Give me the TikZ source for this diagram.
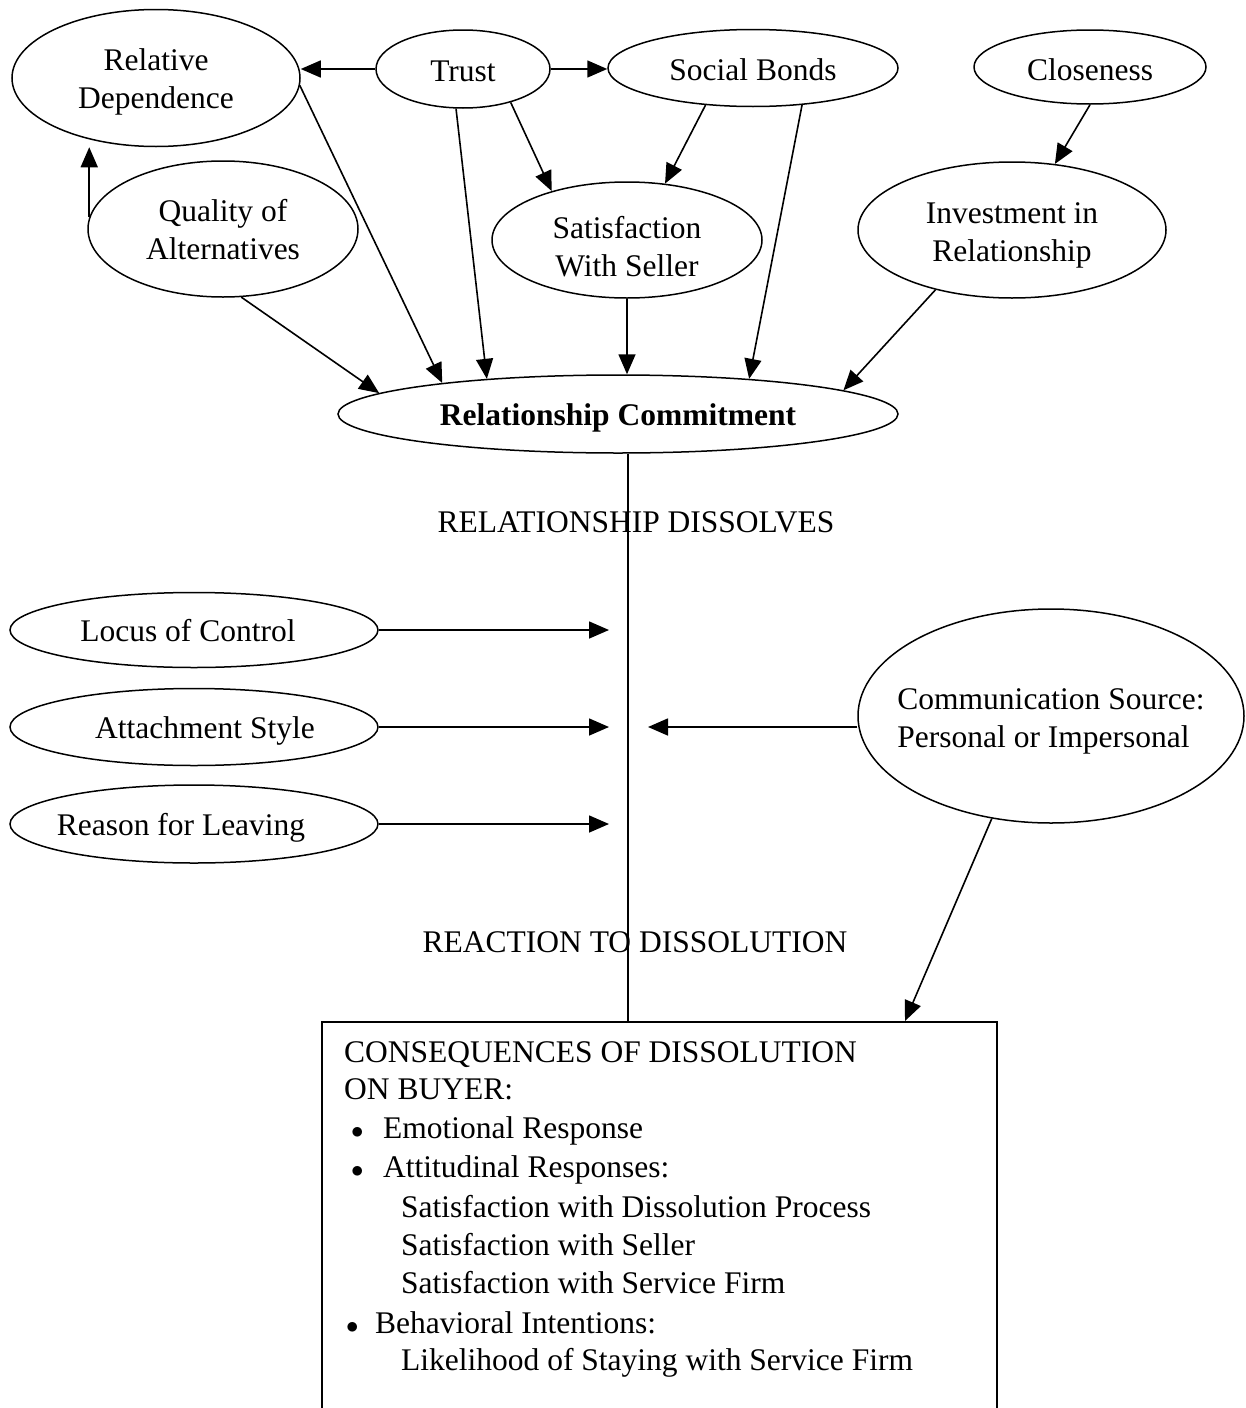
\documentclass[tikz,border=0pt]{standalone}
\usepackage{fontspec}
\setmainfont{Liberation Serif}
\usetikzlibrary{arrows.meta,shapes.geometric}
\newcommand{\ztext}[3][c]{\raisebox{#3}[0pt][0pt]{\makebox[0pt]{\begin{tabular}{@{}#1@{}}#2\end{tabular}}}}
\begin{document}
\begin{tikzpicture}[x=1pt,y=-1pt,
  every node/.style={font=\fontsize{31.5}{38.5}\selectfont},
  ell/.style={draw, ellipse, inner sep=0pt, line width=1.5pt},
  arr/.style={line width=1.6pt, -{Triangle[length=20pt,width=17pt]}},
  ln/.style={line width=1.6pt},
  txt/.style={anchor=base west, inner sep=0pt}
]
\useasboundingbox (0,0) rectangle (1246,1408);
\clip (0,0) rectangle (1246,1408);

% top ellipses
\node[ell, minimum width=288pt, minimum height=137pt] (rd) at (156,78) {\ztext{Relative\\Dependence}{-10pt}};
\node[ell, minimum width=174pt, minimum height=78pt] (tr) at (463,69) {\ztext{Trust}{-11pt}};
\node[ell, minimum width=290pt, minimum height=77pt] (sb) at (753,68) {\ztext{Social Bonds}{-11pt}};
\node[ell, minimum width=232pt, minimum height=74pt] (cl) at (1090,67) {\ztext{Closeness}{-12pt}};
\node[ell, minimum width=270pt, minimum height=136pt] (qa) at (223,229) {\ztext{Quality of\\Alternatives}{-10pt}};
\node[ell, minimum width=270pt, minimum height=116pt] (sws) at (627,240) {\ztext{Satisfaction\\With Seller}{-16pt}};
\node[ell, minimum width=308pt, minimum height=136pt] (ir) at (1012,230) {\ztext{Investment in\\Relationship}{-11pt}};
\node[ell, minimum width=560pt, minimum height=78pt, font=\fontsize{31.5}{38.5}\selectfont\bfseries] (rc) at (618,414) {\ztext{Relationship Commitment}{-10pt}};

% middle
\node (dis) at (636,522) {RELATIONSHIP DISSOLVES};
\node[ell, minimum width=368pt, minimum height=75pt] (loc) at (194,630) {\hspace*{-12pt}\ztext{Locus of Control}{-10pt}};
\node[ell, minimum width=368pt, minimum height=77pt] (att) at (194,727) {\hspace*{22pt}\ztext{Attachment Style}{-10pt}};
\node[ell, minimum width=368pt, minimum height=78pt] (rfl) at (194,824) {\hspace*{-26pt}\ztext{Reason for Leaving}{-10pt}};
\node[ell, minimum width=386pt, minimum height=214pt] (cs) at (1051,716) {\ztext[l]{Communication Source:\\Personal or Impersonal}{-11pt}};
\node (rea) at (635,942) {REACTION TO DISSOLUTION};

% box
\node[draw, line width=1.5pt, minimum width=675pt, minimum height=430pt, anchor=north, inner sep=0pt] (box) at (659.5,1021) {};
\node[txt] (c1) at (344,1062) {CONSEQUENCES OF DISSOLUTION};
\node[txt] (c2) at (344,1099) {ON BUYER:};
\node[txt] (d1) at (351,1138) {$\bullet$};
\node[txt] (b1) at (383,1138) {Emotional Response};
\node[txt] (d2) at (351,1177) {$\bullet$};
\node[txt] (b2) at (383,1177) {Attitudinal Responses:};
\node[txt] (s1) at (401,1217) {Satisfaction with Dissolution Process};
\node[txt] (s2) at (401,1255) {Satisfaction with Seller};
\node[txt] (s3) at (401,1293) {Satisfaction with Service Firm};
\node[txt] (d3) at (346,1333) {$\bullet$};
\node[txt] (b3) at (375,1333) {Behavioral Intentions:};
\node[txt] (l1) at (401,1370) {Likelihood of Staying with Service Firm};

% connectors top
\draw[arr] (tr.west) -- (rd.east |- tr.west);
\draw[arr] (tr.east) -- (sb.west |- tr.east);
\draw[arr] (qa.175) -- (qa.175 |- rd.south);
\draw[arr] (rd.-3) -- (rc.170);
\draw[arr] (tr.-100) -- (rc.165);
\draw[arr] (tr.-35) -- (sws.147);
\draw[arr] (sb.-142) -- (sws.56);
\draw[arr] (sws.south) -- (sws.south |- rc.north);
\draw[arr] (sb.-37) -- (rc.15);
\draw[arr] (cl.south) -- (ir.57);
\draw[arr] (qa.-75) -- (rc.175);
\draw[arr] (ir.-142) -- (rc.6);

% vertical line and side arrows
\coordinate (vtop) at ([xshift=10pt]rc.south);
\draw[ln] (vtop) -- (vtop |- box.north);
\draw[arr] (loc.east) -- ([xshift=-19pt]vtop |- loc.east);
\draw[arr] (att.east) -- ([xshift=-19pt]vtop |- att.east);
\draw[arr] (rfl.east) -- ([xshift=-19pt]vtop |- rfl.east);
\draw[arr] (cs.west |- att.east) -- ([xshift=20pt]vtop |- att.east);
\draw[arr] (cs.-120) -- ([xshift=245.5pt]box.north);
\end{tikzpicture}
\end{document}
